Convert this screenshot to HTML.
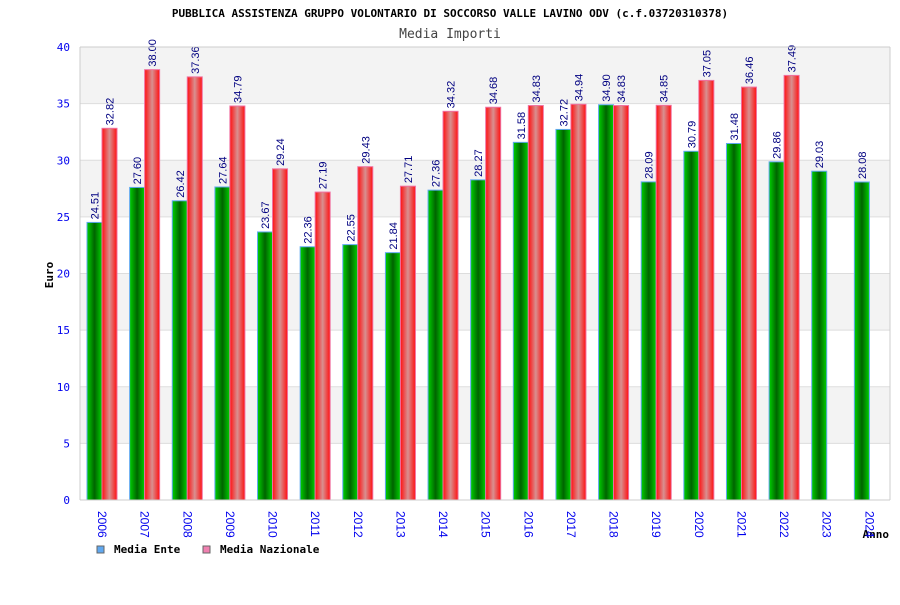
<!DOCTYPE html>
<html><head><meta charset="utf-8"><style>
body{margin:0;background:#fff;width:900px;height:600px;overflow:hidden}
svg text{font-family:"DejaVu Sans Mono","Liberation Mono",monospace}
svg text.s{font-family:"Liberation Sans","DejaVu Sans",sans-serif}
</style></head><body>
<svg id="c" width="900" height="600" xmlns="http://www.w3.org/2000/svg">
<defs>
<linearGradient id="gG" x1="0" x2="1"><stop offset="0" stop-color="#00d000"/><stop offset="0.5" stop-color="#006400"/><stop offset="1" stop-color="#00d000"/></linearGradient>
<linearGradient id="gR" x1="0" x2="1"><stop offset="0" stop-color="#ff1010"/><stop offset="0.5" stop-color="#d89090"/><stop offset="1" stop-color="#ff1010"/></linearGradient>
</defs>
<text x="450" y="17" text-anchor="middle" font-size="11" font-weight="bold" fill="#000">PUBBLICA ASSISTENZA GRUPPO VOLONTARIO DI SOCCORSO VALLE LAVINO ODV (c.f.03720310378)</text>
<text x="450" y="38" text-anchor="middle" font-size="13" fill="#444">Media Importi</text>
<text transform="translate(53,275) rotate(-90)" text-anchor="middle" font-size="11" font-weight="bold" fill="#000">Euro</text>
<text x="889" y="538" text-anchor="end" font-size="11" font-weight="bold" fill="#000">Anno</text>
<g id="grid"></g><g id="bars"></g><g id="axes"></g>
<g>
<rect x="97" y="546" width="7" height="7" fill="#60a8f0" stroke="#666"/>
<text x="114" y="553" font-size="11" font-weight="bold">Media Ente</text>
<rect x="203" y="546" width="7" height="7" fill="#f080b0" stroke="#666"/>
<text x="220" y="553" font-size="11" font-weight="bold">Media Nazionale</text>
</g>
</svg>
<script>
const years=["2006","2007","2008","2009","2010","2011","2012","2013","2014","2015","2016","2017","2018","2019","2020","2021","2022","2023","2024"];
const ente=[24.51,27.60,26.42,27.64,23.67,22.36,22.55,21.84,27.36,28.27,31.58,32.72,34.90,28.09,30.79,31.48,29.86,29.03,28.08];
const nazionale=[32.82,38.00,37.36,34.79,29.24,27.19,29.43,27.71,34.32,34.68,34.83,34.94,34.83,34.85,37.05,36.46,37.49,null,null];
const yTicks=[0,5,10,15,20,25,30,35,40];
const NS="http://www.w3.org/2000/svg";
const L=80,R=890,T=47,B=500,YMAX=40;
const y=v=>B-(v/YMAX)*(B-T);
const gw=(R-L)/years.length;
const x=i=>L+i*gw;
function mk(p,tag,a){const e=document.createElementNS(NS,tag);for(const k in a)e.setAttribute(k,a[k]);p.appendChild(e);return e;}
const grid=document.getElementById('grid'),bars=document.getElementById('bars'),axes=document.getElementById('axes');
mk(grid,'rect',{x:L,y:T,width:R-L,height:B-T,fill:'#fff'});
for(let i=0;i<yTicks.length-1;i++){
 const a=yTicks[i],b=yTicks[i+1];
 if(i%2===1){const r=mk(grid,'rect',{x:L,y:y(b),width:R-L,height:y(a)-y(b),fill:'#f3f3f3'});
 
 }
}
yTicks.forEach(t=>{
 const l=mk(grid,'line',{x1:L,x2:R,y1:y(t),y2:y(t),stroke:'#ddd'});
 
 
 const tx=mk(axes,'text',{x:70,y:y(t)+4,'text-anchor':'end','font-size':11,fill:'#0000ee'});
 tx.textContent=t;
 
 
});
mk(axes,'line',{x1:L,x2:L,y1:T,y2:B,stroke:'#ccc'});
mk(axes,'line',{x1:R,x2:R,y1:T,y2:B,stroke:'#ccc'});
mk(axes,'line',{x1:L,x2:R,y1:B,y2:B,stroke:'#ccc'});
mk(axes,'line',{x1:L,x2:R,y1:T,y2:T,stroke:'#ccc'});
const bw=15;
function bar(v,bx,fill,stroke,name){
 const r=mk(bars,'rect',{x:bx,y:y(v),width:bw,height:B-y(v),fill:fill,stroke:stroke,'stroke-width':1});
 
 
 const t=mk(bars,'text',{class:'s',transform:`translate(${bx+bw/2+4},${y(v)-3}) rotate(-90)`,'font-size':11,fill:'#000080'});
 t.textContent=v.toFixed(2);
 
 
}
years.forEach((yr,i)=>{
 const gx=x(i)+7;
 bar(ente[i],gx,'url(#gG)','#60a8f0','bar-ente-'+yr);
 if(nazionale[i]!=null) bar(nazionale[i],gx+bw,'url(#gR)','#f070a0','bar-nazionale-'+yr);
 const t=mk(axes,'text',{class:'s',transform:`translate(${gx+bw-4},${511}) rotate(90)`,'font-size':12,fill:'#0000ee'});
 t.textContent=yr;
 
 
});
</script>
</body></html>
